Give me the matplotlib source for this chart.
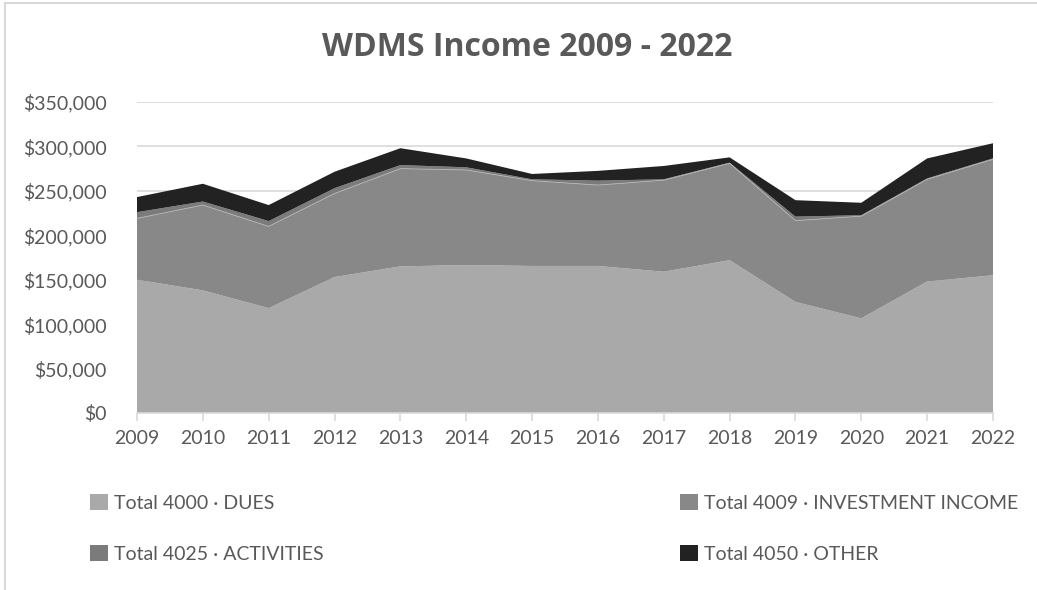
import matplotlib
matplotlib.use('Agg')
import matplotlib.pyplot as plt
from matplotlib.patches import Patch
from matplotlib.ticker import FuncFormatter, MultipleLocator
from matplotlib.lines import Line2D

years = [2009, 2010, 2011, 2012, 2013, 2014, 2015, 2016, 2017, 2018, 2019, 2020, 2021, 2022]
# values, in dollars
dues = [150000, 138000, 118000, 153000, 165000, 166500, 165500, 165500, 159000, 172000, 125000, 106500, 148000, 155000]
investment = [69000, 96000, 92000, 94000, 110000, 107000, 96000, 91000, 103000, 109000, 91500, 115000, 115000, 130500]
activities = [7000, 4000, 6000, 6000, 4000, 3000, 1500, 5000, 1000, 700, 4500, 1100, 1000, 1100]
other = [17000, 20000, 18000, 18500, 19000, 10000, 6000, 11000, 15000, 6000, 18500, 14000, 22500, 17000]

labels = ['Total 4000 · DUES', 'Total 4009 · INVESTMENT INCOME',
          'Total 4025 · ACTIVITIES', 'Total 4050 · OTHER']
colors = ['#a9a9a9', '#888888', '#7b7b7b', '#222222']

plt.rcParams['font.family'] = ['Lato', 'DejaVu Sans']
txt = '#595959'

fig = plt.figure(figsize=(10.37, 5.9), dpi=100)
ax = fig.add_axes([137/1037, 1 - 413/590, (993-137)/1037, (413-102)/590])

ax.stackplot(years, dues, investment, activities, other, colors=colors, linewidth=0)
# thin light seam between investment and activities
top_inv = [d + i for d, i in zip(dues, investment)]
ax.plot(years, top_inv, color='#b5b5b5', lw=0.6)

ax.set_xlim(2009, 2022)
ax.set_ylim(0, 350000)
ax.yaxis.set_major_locator(MultipleLocator(50000))
ax.yaxis.set_major_formatter(FuncFormatter(lambda v, p: '${:,.0f}'.format(v)))
ax.set_xticks(years)
ax.grid(axis='y', color='#d9d9d9', lw=1.2)
ax.set_axisbelow(True)
for s in ['top', 'right', 'left']:
    ax.spines[s].set_visible(False)
ax.spines['bottom'].set_color('#d9d9d9')
ax.spines['bottom'].set_linewidth(1.2)
ax.tick_params(axis='y', length=0, pad=22, labelsize=14, labelcolor=txt)
ax.tick_params(axis='x', length=6, width=1.2, color='#d9d9d9', pad=6, labelsize=14, labelcolor=txt)

fig.text(527/1037, 1 - 48/590, 'WDMS Income 2009 - 2022', ha='center', va='center',
         fontsize=23, fontweight='bold', color=txt, family=['Open Sans', 'DejaVu Sans'])

handles = [Patch(facecolor=c, edgecolor='none') for c in colors]
kw = dict(frameon=False, prop={'family': ['Lato', 'DejaVu Sans'], 'size': 14},
          handlelength=0.9, handleheight=0.9,
          handletextpad=0.35, labelspacing=1.7, labelcolor=txt, borderaxespad=0, borderpad=0)
leg1 = fig.legend([handles[0], handles[2]], [labels[0], labels[2]],
                  loc='upper left', bbox_to_anchor=(90/1037, 1 - 494/590), **kw)
leg2 = fig.legend([handles[1], handles[3]], [labels[1], labels[3]],
                  loc='upper left', bbox_to_anchor=(680/1037, 1 - 494/590), **kw)

# chart border (left and top edges visible)
fig.add_artist(Line2D([5/1037, 5/1037], [0, 1 - 3/590], color='#d9d9d9', lw=1.5))
fig.add_artist(Line2D([5/1037, 1], [1 - 3/590, 1 - 3/590], color='#d9d9d9', lw=1.5))

fig.savefig('out.png', dpi=100)
